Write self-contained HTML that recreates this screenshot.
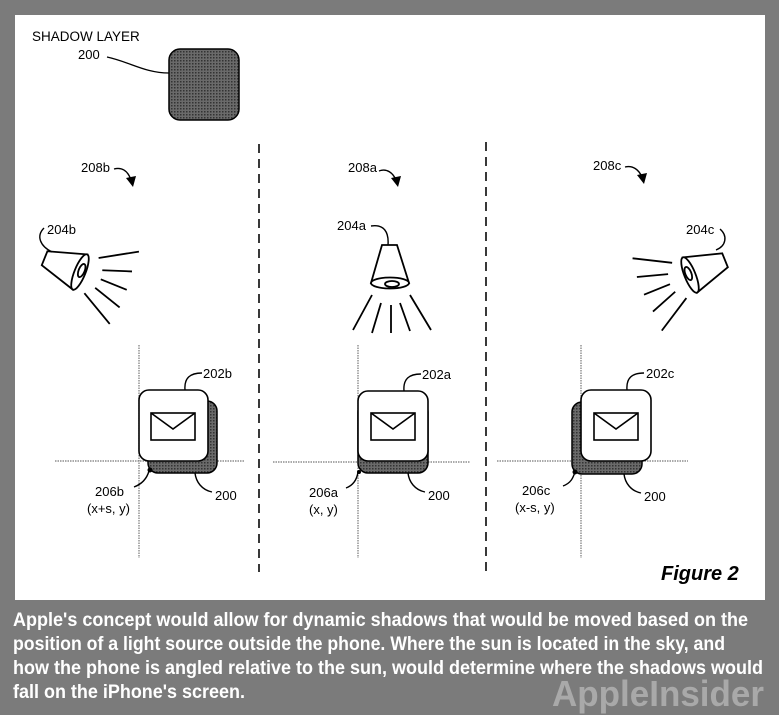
<!DOCTYPE html>
<html><head><meta charset="utf-8"><style>
html,body{margin:0;padding:0;background:#7b7b7b;width:779px;height:715px;overflow:hidden;}
svg{position:absolute;left:0;top:0}
</style></head><body>
<svg width="779" height="715" viewBox="0 0 779 715" font-family="Liberation Sans, sans-serif" font-size="13" fill="#000">
<defs>
<pattern id="dots" width="3" height="3" patternUnits="userSpaceOnUse"><rect width="3" height="3" fill="#6a6a6a"/><rect width="1.5" height="1.5" fill="#333"/></pattern>
</defs>
<rect x="15" y="15" width="750" height="585" fill="#fff"/>
<text x="32" y="41" font-size="13.5">SHADOW LAYER</text>
<text x="78" y="59">200</text>
<path d="M107,57 C130,62 145,73 169,73" fill="none" stroke="#000" stroke-width="1.3"/>
<rect x="169" y="49" width="70" height="71" rx="11" fill="url(#dots)" stroke="#000" stroke-width="1.5"/>
<g stroke="#222" stroke-width="1.8" stroke-dasharray="9,6">
<line x1="259" y1="144" x2="259" y2="572"/><line x1="486" y1="142" x2="486" y2="572"/></g>
<g stroke="#000" stroke-width="1.4" fill="none">
<path d="M114,169 C122,167 128,171 131,180"/><path d="M379,171 C387,168 393,173 396,180"/><path d="M625,167 C633,165 639,170 642,177"/>
</g>
<polygon points="126,178 136,176 133,187" /><polygon points="391,178 401,176 398,187"/><polygon points="637,175 647,173 644,184"/>
<text x="81" y="172">208b</text><text x="348" y="172">208a</text><text x="593" y="170">208c</text>
<g transform="translate(390,283)" stroke="#000" stroke-width="1.8" fill="#fff">
<path d="M-8,-38 L7,-38 L19,0 L-19,0 Z"/>
<ellipse cx="0" cy="0" rx="19" ry="5.5"/>
<ellipse cx="2" cy="1" rx="7" ry="3" fill="none"/>
<path d="M-18,12 L-37,47 M-9,20 L-18,50 M1,22 L1,50 M10,20 L20,48 M20,12 L41,47" fill="none"/>
</g>
<g transform="translate(80,272) rotate(-68)" stroke="#000" stroke-width="1.8" fill="#fff">
<path d="M-8,-38 L7,-38 L19,0 L-19,0 Z"/><ellipse cx="0" cy="0" rx="19" ry="5.5"/><ellipse cx="2" cy="1" rx="7" ry="3" fill="none"/>
<path d="M-18,12 L-37,47 M-9,20 L-18,50 M1,22 L1,50 M10,20 L20,48 M20,12 L41,47" fill="none"/></g>
<g transform="translate(690,275) rotate(68)" stroke="#000" stroke-width="1.8" fill="#fff">
<path d="M-8,-38 L7,-38 L19,0 L-19,0 Z"/><ellipse cx="0" cy="0" rx="19" ry="5.5"/><ellipse cx="-2" cy="1" rx="7" ry="3" fill="none"/>
<path d="M-18,12 L-37,47 M-9,20 L-18,50 M1,22 L1,50 M10,20 L20,48 M20,12 L41,47" fill="none"/></g>
<g stroke="#000" stroke-width="1.4" fill="none">
<path d="M44,228 C36,236 40,246 52,252"/><path d="M371,226 C384,224 389,232 388,245"/><path d="M720,229 C728,236 726,246 716,250"/>
</g>
<text x="47" y="234">204b</text><text x="337" y="230">204a</text><text x="686" y="234">204c</text>
<g stroke="#777" stroke-width="1.2" stroke-dasharray="1.5,1">
<line x1="139" y1="345" x2="139" y2="558"/><line x1="55" y1="461" x2="245" y2="461"/>
<line x1="358" y1="345" x2="358" y2="558"/><line x1="273" y1="462" x2="470" y2="462"/>
<line x1="581" y1="345" x2="581" y2="558"/><line x1="497" y1="461" x2="688" y2="461"/>
</g>
<rect x="148" y="401" width="69" height="72" rx="10" fill="url(#dots)" stroke="#000" stroke-width="1.5"/>
<rect x="358" y="402" width="70" height="71" rx="10" fill="url(#dots)" stroke="#000" stroke-width="1.5"/>
<rect x="572" y="402" width="70" height="72" rx="10" fill="url(#dots)" stroke="#000" stroke-width="1.5"/>
<g stroke="#000" stroke-width="1.6" fill="#fff">
<rect x="139" y="390" width="69" height="71" rx="10"/><rect x="151" y="413" width="44" height="27"/><path d="M151,413 L173,429 L195,413" fill="none"/>
<rect x="358" y="391" width="70" height="70" rx="10"/><rect x="371" y="413" width="44" height="27"/><path d="M371,413 L393,429 L415,413" fill="none"/>
<rect x="581" y="390" width="70" height="71" rx="10"/><rect x="594" y="413" width="44" height="27"/><path d="M594,413 L616,429 L638,413" fill="none"/>
</g>
<g fill="#000"><circle cx="150" cy="470" r="2.5"/><circle cx="359" cy="472" r="2"/><circle cx="575" cy="472" r="2.5"/></g>
<g stroke="#000" stroke-width="1.4" fill="none">
<path d="M185,390 C184,378 190,373 202,373"/><path d="M404,391 C403,379 409,374 421,374"/><path d="M627,390 C626,378 632,373 644,373"/>
<path d="M134,487 C142,484 147,478 149,471"/><path d="M346,488 C354,485 357,479 358,472"/><path d="M563,486 C571,483 573,478 575,472"/>
<path d="M195,473 C196,482 202,490 212,492"/><path d="M408,473 C409,482 415,490 425,492"/><path d="M624,474 C625,483 631,491 641,493"/>
</g>
<text x="203" y="378">202b</text><text x="422" y="379">202a</text><text x="646" y="378">202c</text>
<text x="95" y="496">206b</text><text x="87" y="513">(x+s, y)</text>
<text x="309" y="497">206a</text><text x="309" y="514">(x, y)</text>
<text x="522" y="495">206c</text><text x="515" y="512">(x-s, y)</text>
<text x="215" y="500">200</text><text x="428" y="500">200</text><text x="644" y="501">200</text>
<text x="661" y="580" font-size="20" font-weight="bold" font-style="italic">Figure 2</text>
<g fill="#fff" font-weight="bold" font-size="19" lengthAdjust="spacingAndGlyphs">
<text x="13" y="626" textLength="735" lengthAdjust="spacingAndGlyphs">Apple's concept would allow for dynamic shadows that would be moved based on the</text>
<text x="13" y="650" textLength="712" lengthAdjust="spacingAndGlyphs">position of a light source outside the phone. Where the sun is located in the sky, and</text>
<text x="13" y="674" textLength="750" lengthAdjust="spacingAndGlyphs">how the phone is angled relative to the sun, would determine where the shadows would</text>
<text x="13" y="698" textLength="232" lengthAdjust="spacingAndGlyphs">fall on the iPhone's screen.</text>
</g>
<text x="552" y="706" font-size="36" font-weight="bold" fill="#a9a9a9" textLength="212" lengthAdjust="spacingAndGlyphs">AppleInsider</text>
</svg>
</body></html>
